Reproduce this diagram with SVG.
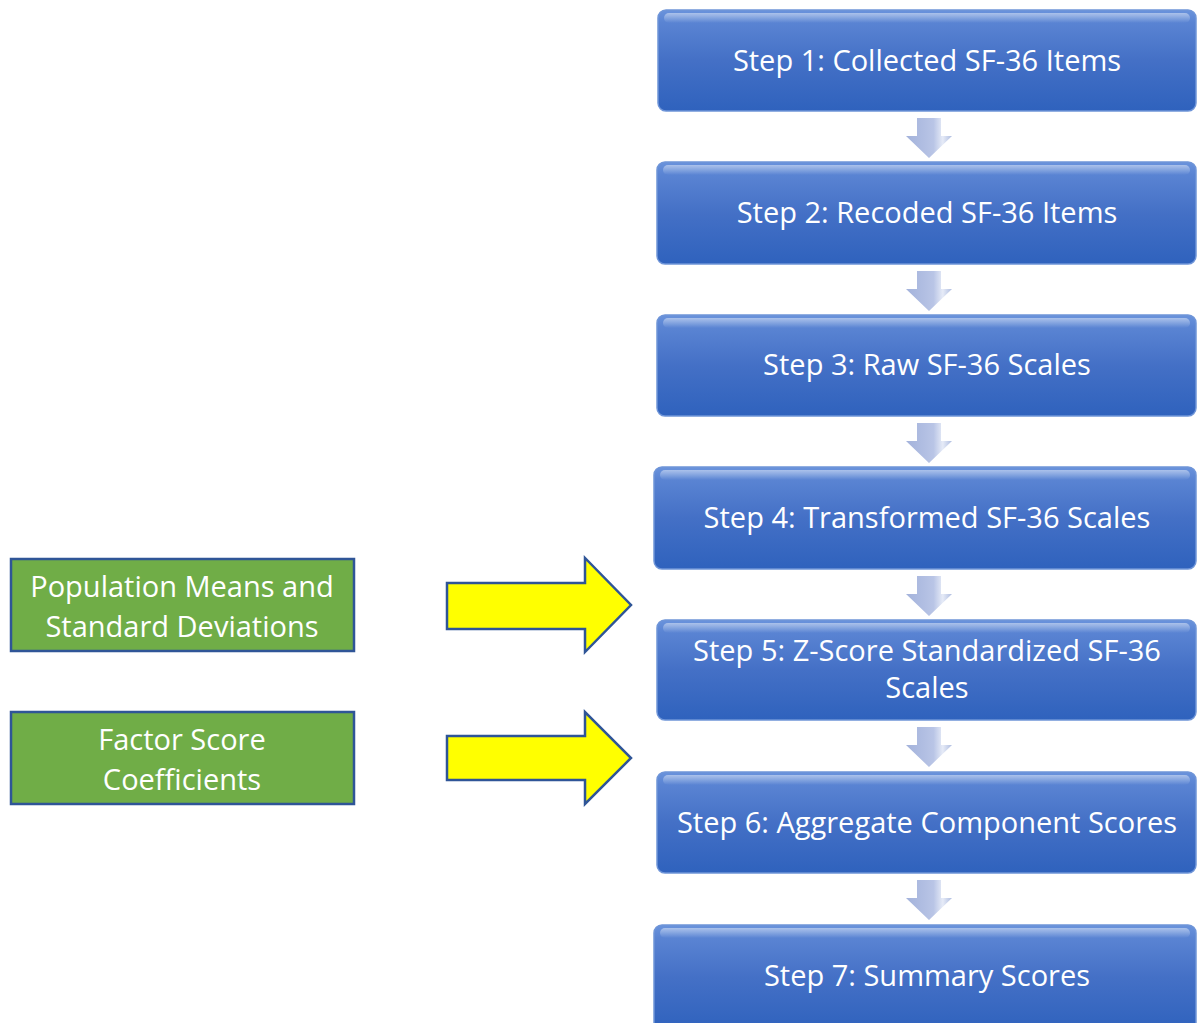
<svg xmlns="http://www.w3.org/2000/svg" width="1198" height="1023" viewBox="0 0 1198 1023">
<defs>
<linearGradient id="gBlue" x1="0" y1="0" x2="0" y2="1">
<stop offset="0" stop-color="#6a93dc"/>
<stop offset="0.12" stop-color="#5a84d3"/>
<stop offset="0.5" stop-color="#4470c6"/>
<stop offset="1" stop-color="#2f62bd"/>
</linearGradient>
<linearGradient id="gArrow" x1="0" y1="0" x2="1" y2="0">
<stop offset="0" stop-color="#a3b2db"/>
<stop offset="0.6" stop-color="#b9c5e6"/>
<stop offset="0.8" stop-color="#e6ebf7"/>
<stop offset="1" stop-color="#aebce0"/>
</linearGradient>
<linearGradient id="gShine" x1="0" y1="0" x2="0" y2="1">
<stop offset="0" stop-color="#ffffff" stop-opacity="0.45"/>
<stop offset="1" stop-color="#ffffff" stop-opacity="0"/>
</linearGradient>
<symbol id="down" overflow="visible">
<path d="M-12,0 H12 V18 H23 L0,40 L-23,18 H-12 Z" fill="url(#gArrow)"/>
</symbol>
</defs>
<style>
.step rect.b{fill:url(#gBlue);stroke:#6f95d8;stroke-width:1.5}
.step rect.s{fill:url(#gShine)}
.step text,.input text{font-family:"Open Sans","Liberation Sans",sans-serif;font-size:29px;fill:#ffffff;text-anchor:middle}
.input rect{fill:#70ad47;stroke:#2f5597;stroke-width:2.5}
.yarrow{fill:#ffff00;stroke:#2f5597;stroke-width:2.5;stroke-linejoin:miter}
</style>
<rect width="1198" height="1023" fill="#ffffff"/>

<g id="connectors">
<use href="#down" x="929" y="118"/>
<use href="#down" x="929" y="271"/>
<use href="#down" x="929" y="423"/>
<use href="#down" x="929" y="576"/>
<use href="#down" x="929" y="727"/>
<use href="#down" x="929" y="880"/>
<path class="yarrow" d="M447,583 H585 V558 L631,605 L585,652 V629 H447 Z"/>
<path class="yarrow" d="M447,736 H585 V712 L631,758 L585,804 V780 H447 Z"/>
</g>

<g id="step1" class="step">
<rect class="b" x="658" y="10" width="538" height="101" rx="8"/>
<rect class="s" x="664" y="13" width="526" height="10" rx="5"/>
<text x="927" y="71">Step 1: Collected SF-36 Items</text>
</g>
<g id="step2" class="step">
<rect class="b" x="657" y="162" width="539" height="102" rx="8"/>
<rect class="s" x="663" y="165" width="527" height="10" rx="5"/>
<text x="927" y="223">Step 2: Recoded SF-36 Items</text>
</g>
<g id="step3" class="step">
<rect class="b" x="657" y="315" width="539" height="101" rx="8"/>
<rect class="s" x="663" y="318" width="527" height="10" rx="5"/>
<text x="927" y="375">Step 3: Raw SF-36 Scales</text>
</g>
<g id="step4" class="step">
<rect class="b" x="654" y="467" width="542" height="102" rx="8"/>
<rect class="s" x="660" y="470" width="530" height="10" rx="5"/>
<text x="927" y="528">Step 4: Transformed SF-36 Scales</text>
</g>
<g id="step5" class="step">
<rect class="b" x="657" y="620" width="539" height="100" rx="8"/>
<rect class="s" x="663" y="623" width="527" height="10" rx="5"/>
<text x="927" y="661">Step 5: Z-Score Standardized SF-36</text>
<text x="927" y="698">Scales</text>
</g>
<g id="step6" class="step">
<rect class="b" x="657" y="772" width="539" height="101" rx="8"/>
<rect class="s" x="663" y="775" width="527" height="10" rx="5"/>
<text x="927" y="833">Step 6: Aggregate Component Scores</text>
</g>
<g id="step7" class="step">
<rect class="b" x="654" y="925" width="542" height="106" rx="8"/>
<rect class="s" x="660" y="928" width="530" height="10" rx="5"/>
<text x="927" y="986">Step 7: Summary Scores</text>
</g>

<g id="input1" class="input">
<rect x="11" y="559" width="343" height="92"/>
<text x="182" y="597">Population Means and</text>
<text x="182" y="637">Standard Deviations</text>
</g>
<g id="input2" class="input">
<rect x="11" y="712" width="343" height="92"/>
<text x="182" y="750">Factor Score</text>
<text x="182" y="790">Coefficients</text>
</g>
</svg>
